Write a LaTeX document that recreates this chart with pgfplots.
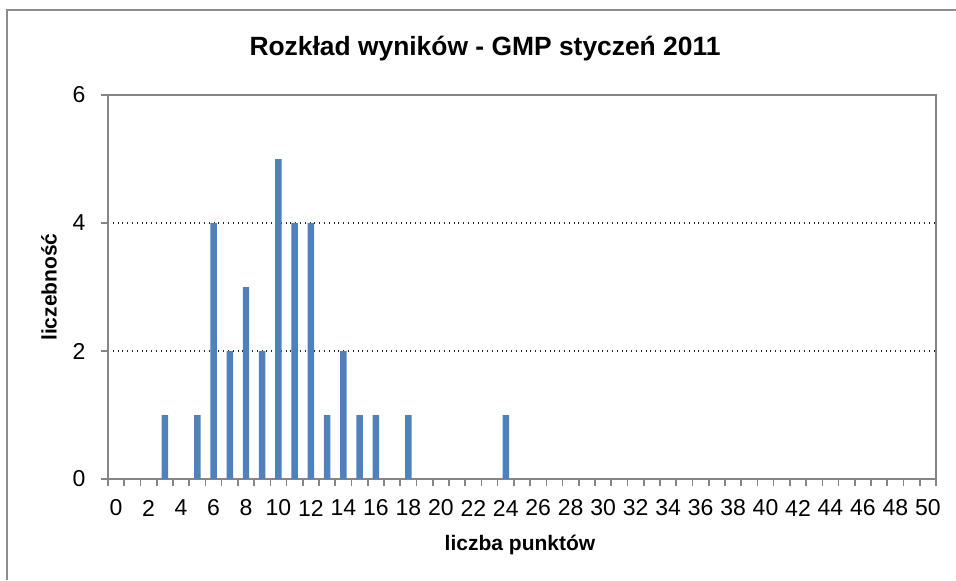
\documentclass[border=0pt]{standalone}
\usepackage{fontspec}
\setmainfont{Liberation Sans}
\usepackage{pgfplots}
\pgfplotsset{compat=1.18}
\definecolor{barblue}{RGB}{79,129,189}
\definecolor{axgray}{RGB}{134,134,134}
\definecolor{framegray}{RGB}{140,140,140}
\begin{document}
\begin{tikzpicture}
\useasboundingbox (0,0) rectangle (478pt,-290pt);
\draw[framegray, line width=1.2pt] (3.5pt,-290pt) -- (3.5pt,-5pt) -- (478pt,-5pt);
\node[font=\fontsize{13.2}{15}\selectfont\bfseries, anchor=center] at (242.5pt,-24.5pt) {Rozkład wyników - GMP styczeń 2011};
\begin{axis}[
  at={(54pt,-239.5pt)}, anchor=south west,
  scale only axis, width=414pt, height=192pt,
  xmin=-0.5, xmax=50.5, ymin=0, ymax=6,
  axis line style={axgray, line width=1pt},
  tick style={axgray, line width=0.8pt},
  tick align=outside,
  tick pos=left,
  major tick length=3.5pt,
  xtick={-0.5,0.5,...,50.5},
  xticklabels={},
  extra x ticks={0,2,...,50},
  extra x tick style={major tick length=0pt},
  ytick={0,2,4,6},
  ymajorgrids,
  grid style={dotted, black!85, line width=0.6pt},
  /pgf/number format/assume math mode=true,
  ticklabel style={font=\fontsize{11.5}{13}\selectfont},
  xticklabel style={anchor=center, yshift=-14.5pt},
  yticklabel style={anchor=center, xshift=-11pt},
  xlabel={liczba punktów},
  ylabel={liczebność},
  label style={font=\fontsize{10.5}{12}\selectfont\bfseries},
  xlabel style={at={(axis description cs:0.5,0)}, anchor=center, yshift=-33pt, xshift=-1pt},
  ylabel style={at={([xshift=-29.5pt]axis description cs:0,0.5)}, anchor=center},
]
\addplot[ybar, bar width=0.4, fill=barblue, draw=none] coordinates {
(3,1) (5,1) (6,4) (7,2) (8,3) (9,2) (10,5) (11,4) (12,4) (13,1) (14,2) (15,1) (16,1) (18,1) (24,1)
};
\end{axis}
\end{tikzpicture}
\end{document}
